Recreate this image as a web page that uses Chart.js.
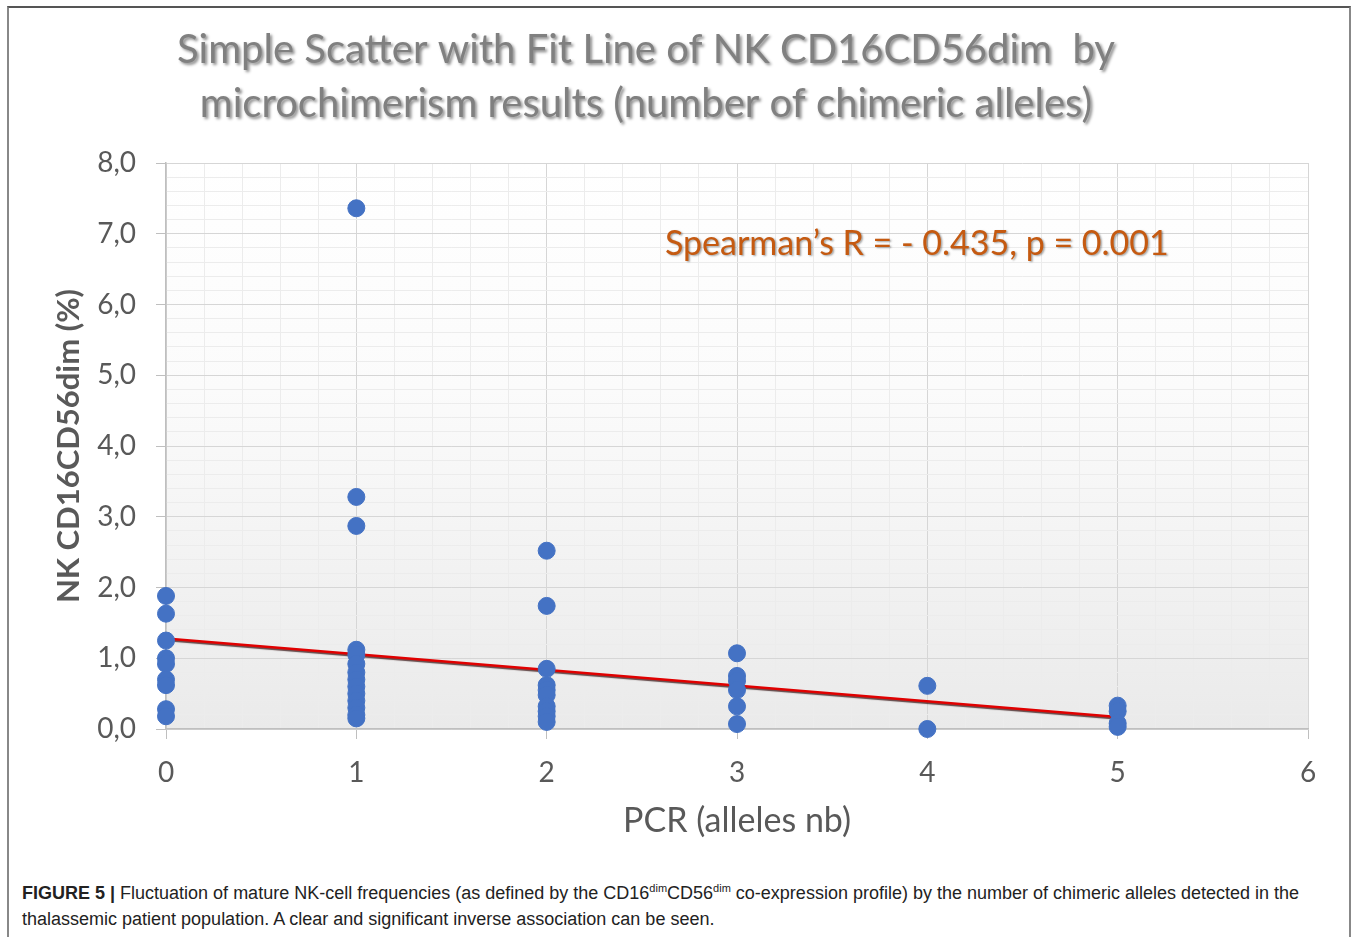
<!DOCTYPE html>
<html>
<head>
<meta charset="utf-8">
<script src="https://cdn.jsdelivr.net/npm/chart.js@4/dist/chart.umd.min.js"></script>
<style>
  body { margin: 0; background: #fff; width: 1360px; height: 937px; overflow: hidden; position: relative; }
  #frame { position: absolute; left: 7px; top: 6px; width: 1344px; height: 960px; border-top: 2px solid #555; border-left: 2px solid #888; border-right: 2px solid #888; box-sizing: border-box; }
  #wrap { position: absolute; left: 0; top: 0; width: 1360px; height: 860px; }
  #chart { display: block; }
  #caption { position: absolute; left: 22px; top: 880px; width: 1300px; font-family: "Liberation Sans", Arial, sans-serif; font-size: 18px; line-height: 26px; color: #222; }
  #caption b { font-weight: bold; }
  #caption sup { font-size: 11px; line-height: 0; vertical-align: 7px; }
</style>
</head>
<body>
<div id="frame"></div>
<div id="wrap"><canvas id="chart" width="1360" height="860"></canvas></div>
<div id="caption"><b>FIGURE 5 |</b> Fluctuation of mature NK-cell frequencies (as defined by the CD16<sup>dim</sup>CD56<sup>dim</sup> co-expression profile) by the number of chimeric alleles detected in the thalassemic patient population. A clear and significant inverse association can be seen.</div>
<script>
document.addEventListener('DOMContentLoaded', () => {
    // number of chimeric alleles (x) and NK CD16CD56dim % (y)
    const alleles0 = [1.88, 1.63, 1.25, 1.0, 0.92, 0.70, 0.62, 0.28, 0.18];
    const alleles1 = [7.36, 3.28, 2.87, 1.12, 1.05, 0.92, 0.80, 0.70, 0.60, 0.50, 0.40, 0.30, 0.20, 0.15];
    const alleles2 = [2.52, 1.74, 0.85, 0.62, 0.55, 0.48, 0.32, 0.25, 0.18, 0.10];
    const alleles3 = [1.07, 0.75, 0.68, 0.55, 0.32, 0.07];
    const alleles4 = [0.61, 0.0];
    const alleles5 = [0.33, 0.25, 0.08, 0.03];
    const groups = [alleles0, alleles1, alleles2, alleles3, alleles4, alleles5];

    const fitX = [0, 5];
    const fitY = [1.28, 0.17];

    const titleLines = ['Simple Scatter with Fit Line of NK CD16CD56dim  by', 'microchimerism results (number of chimeric alleles)'];
    const statsText = 'Spearman\u2019s R = - 0.435, p = 0.001';

    const points = [];
    groups.forEach((vals, x) => vals.forEach(v => points.push({ x: x, y: v })));
    const fitLine = fitX.map((x, i) => ({ x: x, y: fitY[i] }));

    const isMajor = v => Math.abs(v - Math.round(v)) < 1e-6;

    const shadowed = (fn, ctx, color, ox, oy, blur, dx) => {
        ctx.save();
        if (dx) ctx.translate(dx, 0);
        ctx.shadowColor = color;
        ctx.shadowOffsetX = ox;
        ctx.shadowOffsetY = oy;
        ctx.shadowBlur = blur;
        fn();
        ctx.restore();
    };

    const plotBg = {
        id: 'plotBg',
        beforeDraw(chart) {
            const { ctx, chartArea: a } = chart;
            const g = ctx.createLinearGradient(0, a.top, 0, a.bottom);
            g.addColorStop(0, '#ffffff');
            g.addColorStop(0.4, '#fbfbfb');
            g.addColorStop(1, '#eaeaea');
            ctx.save();
            ctx.fillStyle = g;
            ctx.fillRect(a.left, a.top, a.right - a.left, a.bottom - a.top);
            ctx.restore();
            // give the title a soft shadow like the original, nudged left over the page
            if (chart.titleBlock && !chart.titleBlock._shadowed) {
                const orig = chart.titleBlock.draw.bind(chart.titleBlock);
                chart.titleBlock.draw = () => shadowed(orig, chart.ctx, 'rgba(0,0,0,0.45)', 2, 2, 3, -28);
                chart.titleBlock._shadowed = true;
            }
            // dark shadow under the fit line
            const fitMeta = chart.getDatasetMeta(0);
            if (fitMeta.dataset && !fitMeta.dataset._shadowed) {
                const line = fitMeta.dataset;
                const origDraw = line.draw.bind(line);
                line.draw = (c, area) => shadowed(() => origDraw(c, area), c, 'rgba(40,0,0,0.7)', 0, 1.5, 1);
                line._shadowed = true;
            }
        }
    };

    const statsLabel = {
        id: 'statsLabel',
        afterDatasetsDraw(chart) {
            const { ctx, scales } = chart;
            const px = scales.x.getPixelForValue(3.945);
            const py = scales.y.getPixelForValue(6.86);
            shadowed(() => {
                ctx.font = '34px Lato, "Open Sans", sans-serif';
                ctx.fillStyle = '#c55a11';
                ctx.textAlign = 'center';
                ctx.textBaseline = 'middle';
                ctx.fillText(statsText, px, py);
            }, ctx, 'rgba(0,0,0,0.35)', 1.5, 1.5, 2);
        }
    };

    const ctx = document.getElementById('chart').getContext('2d');
    new Chart(ctx, {
        type: 'scatter',
        data: {
            datasets: [{
                label: 'Fit line',
                type: 'line',
                data: fitLine,
                borderColor: '#e00000',
                borderWidth: 2.5,
                pointRadius: 0,
                fill: false,
                order: 2
            }, {
                label: 'NK CD16CD56dim',
                data: points,
                backgroundColor: '#4472c4',
                borderColor: '#4472c4',
                pointRadius: 8.5,
                pointHoverRadius: 8.5,
                clip: false,
                order: 1
            }]
        },
        options: {
            responsive: false,
            animation: false,
            layout: { padding: { left: 40, right: 52, top: 0, bottom: 0 } },
            plugins: {
                legend: { display: false },
                tooltip: { enabled: false },
                title: {
                    display: true,
                    text: titleLines,
                    color: '#808080',
                    font: { family: 'Lato, "Open Sans", sans-serif', size: 40, weight: 'normal', lineHeight: 1.35 },
                    padding: { top: 23, bottom: 32 }
                }
            },
            scales: {
                x: {
                    type: 'linear',
                    min: 0,
                    max: 6,
                    afterFit(scale) { scale.height = 131; },
                    border: { color: '#bfbfbf', width: 1.5 },
                    grid: {
                        color: c => isMajor(c.tick.value) ? '#d6d6d6' : '#ececec',
                        tickColor: c => isMajor(c.tick.value) ? '#bfbfbf' : 'rgba(0,0,0,0)',
                        tickLength: 10
                    },
                    ticks: {
                        stepSize: 0.2,
                        autoSkip: false,
                        maxRotation: 0,
                        padding: 17,
                        color: '#595959',
                        font: { family: 'Lato, "Open Sans", sans-serif', size: 28 },
                        callback: v => isMajor(v) ? String(Math.round(v)) : ''
                    },
                    title: {
                        display: true,
                        text: 'PCR (alleles nb)',
                        color: '#595959',
                        font: { family: 'Lato, "Open Sans", sans-serif', size: 34 },
                        padding: { top: 0, bottom: 19 }
                    }
                },
                y: {
                    type: 'linear',
                    min: 0,
                    max: 8,
                    afterFit(scale) { scale.width = 126; },
                    border: { color: '#bfbfbf', width: 1.5 },
                    grid: {
                        color: c => isMajor(c.tick.value) ? '#d6d6d6' : '#ececec',
                        tickColor: c => isMajor(c.tick.value) ? '#bfbfbf' : 'rgba(0,0,0,0)',
                        tickLength: 10
                    },
                    ticks: {
                        stepSize: 0.2,
                        autoSkip: false,
                        padding: 20,
                        color: '#595959',
                        font: { family: 'Lato, "Open Sans", sans-serif', size: 28 },
                        callback: v => isMajor(v) ? Math.round(v).toFixed(1).replace('.', ',') : ''
                    },
                    title: {
                        display: true,
                        text: 'NK CD16CD56dim (%)',
                        color: '#595959',
                        font: { family: 'Lato, "Open Sans", sans-serif', size: 31, weight: 'bold' },
                        padding: { top: 10, bottom: 0 }
                    }
                }
            }
        },
        plugins: [plotBg, statsLabel]
    });
});
</script>
</body>
</html>
